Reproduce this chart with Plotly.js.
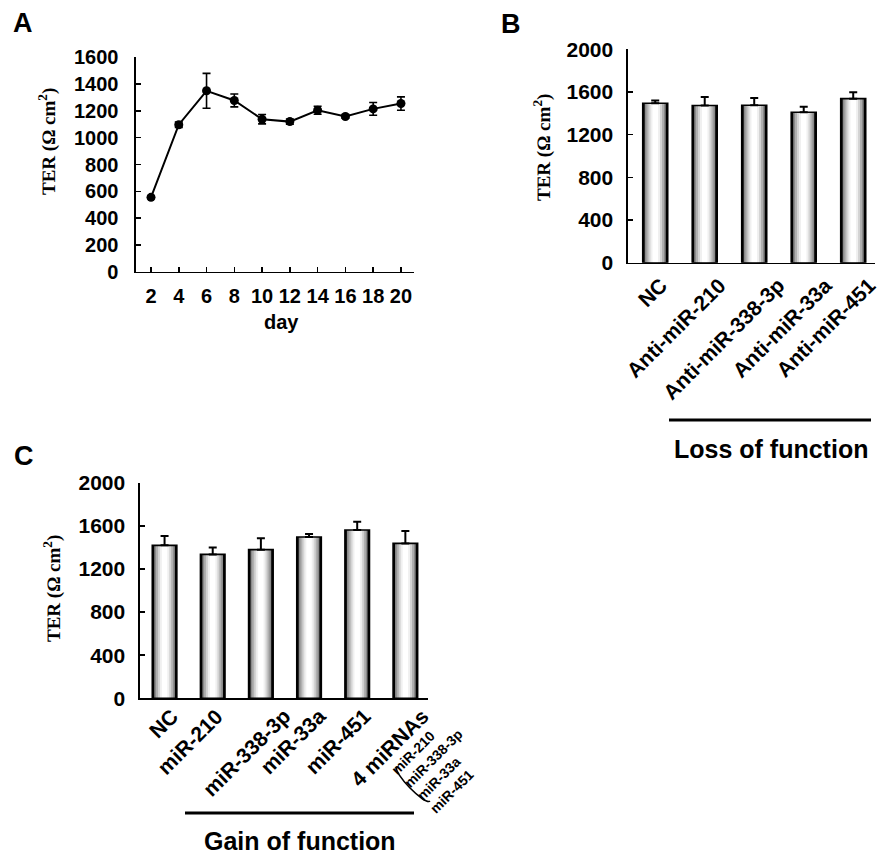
<!DOCTYPE html>
<html>
<head>
<meta charset="utf-8">
<script src="https://cdn.plot.ly/plotly-3.0.1.min.js"></script>
<style>html,body{margin:0;padding:0;background:#fff;}#chart{width:881px;height:857px;}</style>
</head>
<body>
<div id="chart"></div>
<script>
// ---- Data ----
const daysA = [2, 4, 6, 8, 10, 12, 14, 16, 18, 20];
const terA = [555, 1097, 1350, 1278, 1138, 1120, 1205, 1158, 1215, 1255];
const errA = [10, 20, 130, 48, 35, 20, 30, 12, 48, 50];

const catsB = ["NC", "Anti-miR-210", "Anti-miR-338-3p", "Anti-miR-33a", "Anti-miR-451"];
const terB = [1494, 1472, 1475, 1410, 1537];
const errB = [25, 80, 68, 52, 60];

const catsC = ["NC", "miR-210", "miR-338-3p", "miR-33a", "miR-451", "4 miRNAs"];
const terC = [1419, 1335, 1379, 1496, 1561, 1437];
const errC = [86, 65, 105, 28, 77, 115];

const tickA_y = [0, 200, 400, 600, 800, 1000, 1200, 1400, 1600];
const tickBC_y = [0, 400, 800, 1200, 1600, 2000];
const comboMembers = ["miR-210", "miR-338-3p", "miR-33a", "miR-451"];

// ---- Presentation (label placement, px shift right of each bar centre) ----
const labelShiftB = [14, 24, 33, 31, 25];
const labelShiftC = [16, 13, 32, 19, 16, 26];

const W = 881, H = 857;
const X = p => p / W;
const Y = p => 1 - p / H;
const sans = "Liberation Sans, Arial, Helvetica, sans-serif";
const serif = "Liberation Serif, Times New Roman, serif";

function barLayers(cats, vals, errs, xa, ya, w) {
  const layers = [
    {f: 1.0, c: "#000000"},
    {f: 0.84, c: "#8a8a8a"},
    {f: 0.70, c: "#b0b0b0"},
    {f: 0.54, c: "#d4d4d4"},
    {f: 0.38, c: "#f0f0f0"},
    {f: 0.22, c: "#ffffff"}
  ];
  const tr = layers.map(l => ({
    type: "bar", x: cats, y: vals, xaxis: xa, yaxis: ya,
    width: w * l.f, marker: {color: l.c, line: {width: 0}},
    hoverinfo: "skip", showlegend: false
  }));
  tr.push({
    type: "bar", x: cats, y: vals, xaxis: xa, yaxis: ya, width: w,
    marker: {color: "rgba(0,0,0,0)", line: {color: "#000", width: 1.6}},
    error_y: {type: "data", array: errs, arrayminus: errs.map(() => 0), symmetric: false,
              color: "#000", thickness: 2, width: 4},
    showlegend: false
  });
  return tr;
}

const traces = [
  {
    type: "scatter", mode: "lines+markers", x: daysA, y: terA, xaxis: "x", yaxis: "y",
    line: {color: "#000", width: 2}, marker: {color: "#000", size: 9},
    error_y: {type: "data", array: errA, color: "#000", thickness: 1.6, width: 4},
    showlegend: false
  },
  ...barLayers(catsB, terB, errB, "x2", "y2", 0.505),
  ...barLayers(catsC, terC, errC, "x3", "y3", 0.51)
];

const axBase = {
  showline: true, linecolor: "#000", linewidth: 1.6,
  showgrid: false, zeroline: false, ticks: "inside", ticklen: 5, tickwidth: 1.5, tickcolor: "#000",
  tickfont: {family: sans, size: 20, color: "#000", weight: 700}
};
const bigTick = {family: sans, size: 21, color: "#000", weight: 700};
const yTitleFont = {family: serif, size: 19, weight: 700, color: "#000000"};

const annotations = [
  {text: "A", x: X(11), y: Y(23), xref: "paper", yref: "paper", xanchor: "left", yanchor: "middle",
   showarrow: false, font: {family: sans, size: 27, weight: 700, color: "#000"}},
  {text: "B", x: X(499), y: Y(24), xref: "paper", yref: "paper", xanchor: "left", yanchor: "middle",
   showarrow: false, font: {family: sans, size: 27, weight: 700, color: "#000"}},
  {text: "C", x: X(12), y: Y(456), xref: "paper", yref: "paper", xanchor: "left", yanchor: "middle",
   showarrow: false, font: {family: sans, size: 27, weight: 700, color: "#000"}},
  {text: "TER (Ω cm<sup>2</sup>)", x: X(47), y: Y(142), xref: "paper", yref: "paper",
   xanchor: "center", yanchor: "middle", textangle: -89.9, showarrow: false, font: yTitleFont},
  {text: "TER (Ω cm<sup>2</sup>)", x: X(543), y: Y(148), xref: "paper", yref: "paper",
   xanchor: "center", yanchor: "middle", textangle: -89.9, showarrow: false, font: yTitleFont},
  {text: "TER (Ω cm<sup>2</sup>)", x: X(52), y: Y(589), xref: "paper", yref: "paper",
   xanchor: "center", yanchor: "middle", textangle: -89.9, showarrow: false, font: yTitleFont},
  {text: "day", x: X(281), y: Y(322), xref: "paper", yref: "paper", xanchor: "center", yanchor: "middle",
   showarrow: false, font: {family: sans, size: 20, weight: 700, color: "#000"}},
  {text: "Loss of function", x: X(771), y: Y(449), xref: "paper", yref: "paper", xanchor: "center", yanchor: "middle",
   showarrow: false, font: {family: sans, size: 25, weight: 700, color: "#000"}},
  {text: "Gain of function", x: X(300), y: Y(841), xref: "paper", yref: "paper", xanchor: "center", yanchor: "middle",
   showarrow: false, font: {family: sans, size: 25, weight: 700, color: "#000"}},
  {text: comboMembers.join("<br>"), x: X(439), y: Y(765), xref: "paper", yref: "paper",
   xanchor: "center", yanchor: "middle", align: "left", textangle: -45, showarrow: false,
   font: {family: sans, size: 14, weight: 700, color: "#000"}}
];

// rotated category labels (drawn as annotations so they can sit where the reference has them)
catsB.forEach((c, i) => annotations.push({
  text: c, x: c, xref: "x2", y: Y(272), yref: "paper", xanchor: "right", yanchor: "top",
  xshift: labelShiftB[i] + 3, textangle: -45, showarrow: false, borderpad: 0, font: bigTick
}));
catsC.forEach((c, i) => annotations.push({
  text: c, x: c, xref: "x3", y: Y(703), yref: "paper", xanchor: "right", yanchor: "top",
  xshift: labelShiftC[i] + 3, textangle: -45, showarrow: false, borderpad: 0, font: bigTick
}));

// thin bracket in front of the 4-miRNA list
function bracketPath() {
  const s = [397, 767], e = [430, 801], k = 7;
  const n = [-0.7071 * k, 0.7071 * k];
  const p = pt => X(pt[0]) + "," + Y(pt[1]);
  return "M" + p(s) + " C" + p([s[0] + n[0], s[1] + n[1]]) + " " + p([e[0] + n[0], e[1] + n[1]]) + " " + p(e);
}

const layout = {
  width: W, height: H, margin: {l: 0, r: 0, t: 0, b: 0},
  paper_bgcolor: "#fff", plot_bgcolor: "rgba(0,0,0,0)",
  barmode: "overlay", showlegend: false,
  xaxis: Object.assign({}, axBase, {domain: [X(136), X(414)], range: [0.92, 20.94],
    tickvals: daysA, anchor: "y", ticklabelstandoff: 6}),
  yaxis: Object.assign({}, axBase, {domain: [Y(271.7), Y(57.3)], range: [0, 1600],
    tickvals: tickA_y, anchor: "x", ticklabelstandoff: 12}),
  xaxis2: Object.assign({}, axBase, {domain: [X(628), X(875)], range: [-0.55, 4.44],
    type: "category", ticks: "", showticklabels: false, anchor: "y2"}),
  yaxis2: Object.assign({}, axBase, {domain: [Y(262.7), Y(49.2)], range: [0, 2000],
    tickvals: tickBC_y, anchor: "x2", ticklabelstandoff: 9, tickfont: bigTick}),
  xaxis3: Object.assign({}, axBase, {domain: [X(140), X(428)], range: [-0.51, 5.47],
    type: "category", ticks: "", showticklabels: false, anchor: "y3"}),
  yaxis3: Object.assign({}, axBase, {domain: [Y(698.3), Y(482.7)], range: [0, 2000],
    tickvals: tickBC_y, anchor: "x3", ticklabelstandoff: 9, tickfont: bigTick}),
  shapes: [
    {type: "line", xref: "paper", yref: "paper", x0: X(669), x1: X(871), y0: Y(420), y1: Y(420),
     line: {color: "#000", width: 3}},
    {type: "line", xref: "paper", yref: "paper", x0: X(185), x1: X(414), y0: Y(813), y1: Y(813),
     line: {color: "#000", width: 3}},
    {type: "path", xref: "paper", yref: "paper", path: bracketPath(), line: {color: "#000", width: 1.6}}
  ],
  annotations: annotations
};

Plotly.newPlot("chart", traces, layout, {staticPlot: true, displayModeBar: false});
</script>
</body>
</html>
